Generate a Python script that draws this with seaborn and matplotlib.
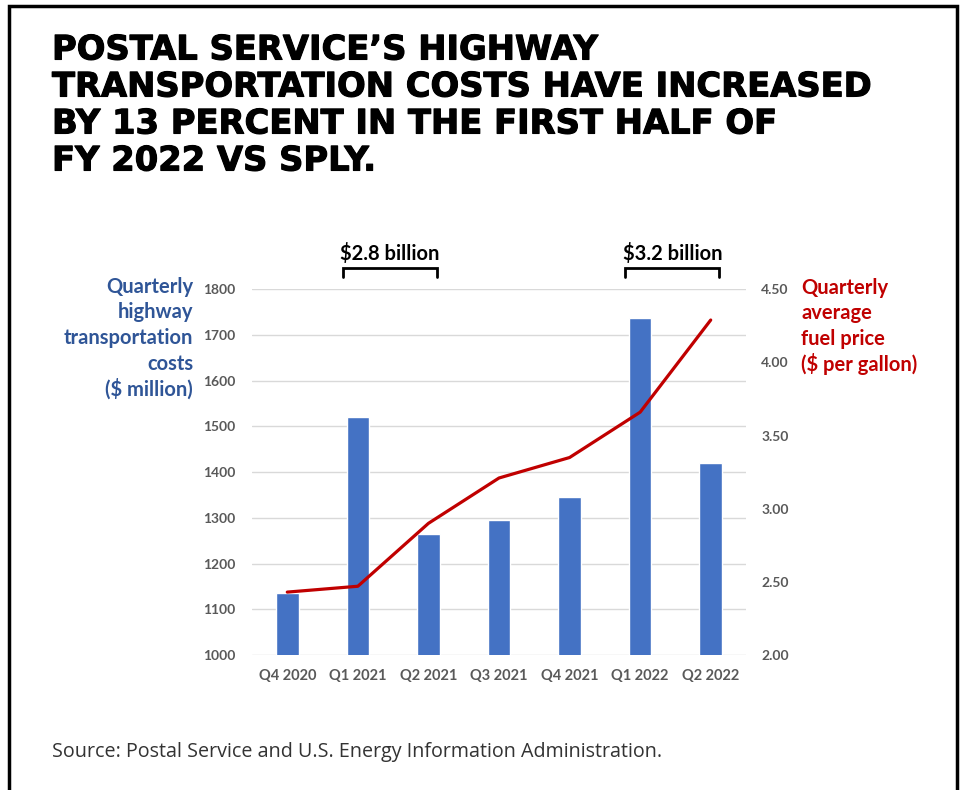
import matplotlib
matplotlib.use("Agg")
import matplotlib.pyplot as plt
import matplotlib.patheffects as pe
import seaborn as sns
import pandas as pd
from matplotlib.patches import Rectangle

# values
quarters = ["Q4 2020", "Q1 2021", "Q2 2021", "Q3 2021", "Q4 2021", "Q1 2022", "Q2 2022"]
highway_costs = [1136, 1521, 1264, 1295, 1345, 1738, 1419]   # $ million
fuel_price = [2.43, 2.47, 2.90, 3.21, 3.35, 3.66, 4.29]      # $ per gallon

title_lines = ["POSTAL SERVICE\u2019S HIGHWAY",
               "TRANSPORTATION COSTS HAVE INCREASED",
               "BY 13 PERCENT IN THE FIRST HALF OF",
               "FY 2022 VS SPLY."]
left_label = ["Quarterly", "highway", "transportation", "costs", "($ million)"]
right_label = ["Quarterly", "average", "fuel price", "($ per gallon)"]
brackets = [("$2.8 billion", 1, 2), ("$3.2 billion", 5, 6)]
source = "Source: Postal Service and U.S. Energy Information Administration."

BLUE = "#4472C4"
RED = "#C00000"
LBLUE = "#2F5597"
GREY = "#595959"

sns.set_theme(style="white")
plt.rcParams['font.family'] = ['Lato', 'DejaVu Sans']

df = pd.DataFrame({"quarter": quarters, "cost": highway_costs, "fuel": fuel_price})

W, H = 961, 790
fig = plt.figure(figsize=(W / 100, H / 100), dpi=100)
ax = fig.add_axes([252 / W, 1 - 655 / H, 494 / W, (655 - 289.3) / H])

sns.barplot(data=df, x="quarter", y="cost", color=BLUE, width=0.32,
            saturation=1, ax=ax, zorder=3)
ax.set_ylim(1000, 1800)
ax.set_yticks(range(1000, 1801, 100))
ax.set_xlim(-0.5, 6.5)
ax.grid(axis="y", color="#D9D9D9", lw=1, zorder=0)
ax.set_axisbelow(True)
for s in ax.spines.values():
    s.set_visible(False)
ax.set_xlabel("")
ax.set_ylabel("")
ax.tick_params(axis="y", length=0, pad=12, labelsize=10, labelcolor=GREY)
ax.tick_params(axis="x", length=0, pad=10, labelsize=10.5, labelcolor=GREY)
for lab in ax.get_xticklabels() + ax.get_yticklabels():
    lab.set_fontweight("bold")

ax2 = ax.twinx()
sns.lineplot(data=df, x="quarter", y="fuel", color=RED, lw=2.3, ax=ax2,
             sort=False, zorder=4)
ax2.set_ylim(2.0, 4.5)
ax2.set_yticks([2.0, 2.5, 3.0, 3.5, 4.0, 4.5])
ax2.set_yticklabels([f"{v:.2f}" for v in ax2.get_yticks()])
ax2.set_xlim(-0.5, 6.5)
for s in ax2.spines.values():
    s.set_visible(False)
ax2.set_ylabel("")
ax2.set_xlabel("")
ax2.tick_params(axis="y", length=0, pad=11, labelsize=10, labelcolor=GREY)
for lab in ax2.get_yticklabels():
    lab.set_fontweight("bold")

# brackets above the bars
for text, a, b in brackets:
    x0, x1 = a - 0.21, b + 0.12
    ax.plot([x0, x0, x1, x1], [1827, 1846, 1846, 1827], color="black", lw=2,
            clip_on=False, solid_joinstyle="miter")
    ax.text((x0 + x1) / 2, 1879, text, ha="center", va="center",
            fontsize=14.5, fontweight="bold", color="black")

# axis labels
for i, line in enumerate(left_label):
    fig.text(193 / W, 1 - (287 + i * 25.5) / H, line, ha="right", va="center",
             fontsize=14.5, fontweight="bold", color=LBLUE)
for i, line in enumerate(right_label):
    fig.text(801 / W, 1 - (288 + i * 25.3) / H, line, ha="left", va="center",
             fontsize=14.5, fontweight="bold", color=RED)

# title
for i, line in enumerate(title_lines):
    fig.text(52 / W, 1 - (50 + i * 37) / H, line, ha="left", va="center",
             fontsize=24.3, fontweight="bold", color="black",
             family="DejaVu Sans",
             path_effects=[pe.withStroke(linewidth=0.8, foreground="black")])

fig.text(52 / W, 1 - 752 / H, source, ha="left", va="center",
         fontsize=14.2, color="#333333", family="Open Sans")

fig.patches.append(Rectangle((9 / W, -0.1), (957 - 9) / W, 1.1 - 6 / H,
                             transform=fig.transFigure, fill=False,
                             edgecolor="black", lw=2.5))

fig.savefig("out.png", dpi=100)
